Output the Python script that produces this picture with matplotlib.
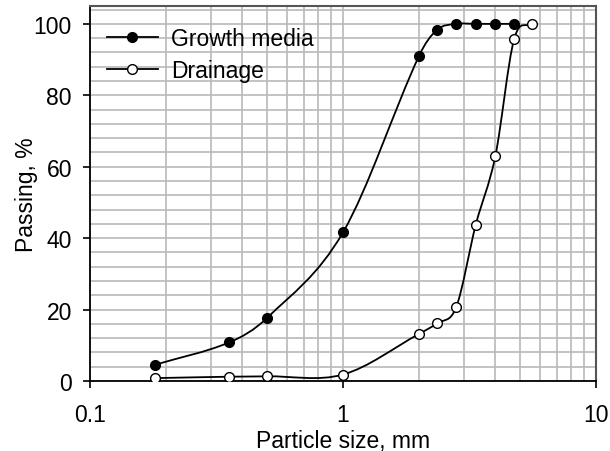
"""Particle size distribution: growth media vs drainage layer."""

import matplotlib

matplotlib.use("Agg")
import matplotlib.pyplot as plt
import numpy as np
from matplotlib.lines import Line2D
from matplotlib.patches import PathPatch
from matplotlib.path import Path
from matplotlib.ticker import FixedLocator, MultipleLocator, NullFormatter

plt.rcParams["font.family"] = ["Liberation Sans", "DejaVu Sans"]
plt.rcParams["font.size"] = 16.5

# sieve sizes (mm) and percent passing
growth_size = [0.18, 0.355, 0.5, 1.0, 2.0, 2.36, 2.8, 3.35, 4.0, 4.75]
growth_pass = [4.5, 10.8, 17.6, 41.6, 91.1, 98.4, 100, 100, 100, 100]
drain_size = [0.18, 0.355, 0.5, 1.0, 2.0, 2.36, 2.8, 3.35, 4.0, 4.75, 5.6]
drain_pass = [0.8, 1.2, 1.3, 1.8, 13.2, 16.2, 20.6, 43.8, 62.9, 95.8, 100]

x_ticks = [0.1, 1, 10]
x_ticklabels = ["0.1", "1", "10"]
y_ticks = [0, 20, 40, 60, 80, 100]


def smooth_path(x, y):
    """Cubic Hermite (Catmull-Rom) curve through the points, in log-x space."""
    lx = np.log10(np.asarray(x, dtype=float))
    y = np.asarray(y, dtype=float)
    n = len(lx)
    m = np.empty(n)
    m[0] = (y[1] - y[0]) / (lx[1] - lx[0])
    m[-1] = (y[-1] - y[-2]) / (lx[-1] - lx[-2])
    m[1:-1] = (y[2:] - y[:-2]) / (lx[2:] - lx[:-2])
    verts = [(10 ** lx[0], y[0])]
    codes = [Path.MOVETO]
    for i in range(n - 1):
        h = lx[i + 1] - lx[i]
        verts.append((10 ** (lx[i] + h / 3), y[i] + m[i] * h / 3))
        verts.append((10 ** (lx[i + 1] - h / 3), y[i + 1] - m[i + 1] * h / 3))
        verts.append((10 ** lx[i + 1], y[i + 1]))
        codes += [Path.CURVE4] * 3
    return Path(verts, codes)


fig = plt.figure(figsize=(6.1, 4.52), dpi=100)
ax = fig.add_axes([0.1475, 0.1549, 0.8295, 0.8296])
ax.set_xscale("log")
ax.set_xlim(0.1, 10)
ax.set_ylim(0, 105)

ax.xaxis.set_major_locator(FixedLocator(x_ticks))
ax.set_xticklabels(x_ticklabels)
ax.xaxis.set_minor_locator(FixedLocator(
    [k * d for d in (0.1, 1) for k in range(2, 10)]))
ax.xaxis.set_minor_formatter(NullFormatter())
ax.yaxis.set_major_locator(FixedLocator(y_ticks))
ax.yaxis.set_minor_locator(MultipleLocator(4))

ax.grid(True, which="both", color="#b9b9b9", linewidth=1.2)
ax.set_axisbelow(True)
ax.tick_params(which="major", direction="out", length=5, width=1.2, color="black")
ax.tick_params(axis="y", which="major", pad=8)
ax.tick_params(axis="x", which="major", pad=11)
ax.tick_params(which="minor", length=0)

for side in ("left", "bottom"):
    ax.spines[side].set_color("black")
    ax.spines[side].set_linewidth(1.3)
for side in ("top", "right"):
    ax.spines[side].set_color("#555555")
    ax.spines[side].set_linewidth(1.5)

for xs, ys in ((growth_size, growth_pass), (drain_size, drain_pass)):
    ax.add_patch(PathPatch(smooth_path(xs, ys), facecolor="none",
                           edgecolor="black", linewidth=1.3, zorder=3))

ax.plot(growth_size, growth_pass, linestyle="none", marker="o", markersize=7,
        markerfacecolor="black", markeredgecolor="black", zorder=4)
ax.plot(drain_size, drain_pass, linestyle="none", marker="o", markersize=7,
        markerfacecolor="white", markeredgecolor="black", markeredgewidth=1.0,
        zorder=4)

handles = [
    Line2D([], [], color="black", linewidth=1.3, marker="o", markersize=7,
           markerfacecolor="black", markeredgecolor="black"),
    Line2D([], [], color="black", linewidth=1.3, marker="o", markersize=7,
           markerfacecolor="white", markeredgecolor="black", markeredgewidth=1.0),
]
ax.legend(handles, ["Growth media", "Drainage"], loc="upper left",
          bbox_to_anchor=(0.033, 0.945), frameon=False, handlelength=2.25,
          handletextpad=0.55, labelspacing=0.4, borderpad=0, borderaxespad=0)

ax.set_xlabel("Particle size, mm", labelpad=2)
ax.set_ylabel("Passing, %", labelpad=-3)

fig.savefig("out.png", dpi=100)
